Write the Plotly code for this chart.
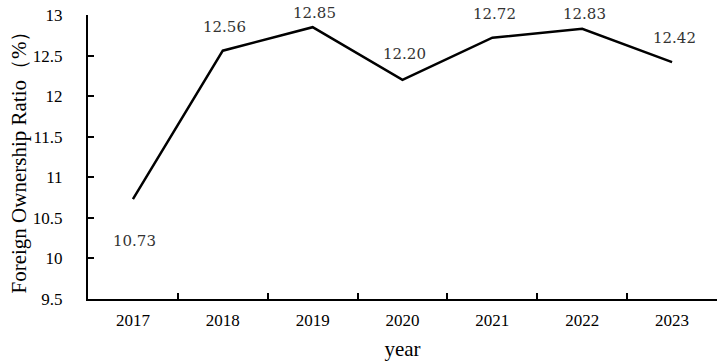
import plotly.graph_objects as go

years = ["2017", "2018", "2019", "2020", "2021", "2022", "2023"]
ratio = [10.73, 12.56, 12.85, 12.20, 12.72, 12.83, 12.42]
label_text = ["10.73", "12.56", "12.85", "12.20", "12.72", "12.83", "12.42"]

# vertical pixel offset of each value label from its point (style, not data)
label_dy = [-42, 24, 14, 26, 24, 15, 24]

serif = "Liberation Serif"

fig = go.Figure()
fig.add_trace(go.Scatter(
    x=years, y=ratio, mode="lines",
    line=dict(color="black", width=2.5),
    showlegend=False, hoverinfo="skip",
))

for i, (y, t, dy) in enumerate(zip(ratio, label_text, label_dy)):
    fig.add_annotation(
        x=i, y=y, xref="x", yref="y", text=t, showarrow=False,
        xshift=2, yshift=dy,
        font=dict(family="DejaVu Serif", size=15, color="#333333"),
    )

fig.update_layout(
    width=726, height=364,
    margin=dict(l=88, r=9, t=15, b=65),
    paper_bgcolor="white", plot_bgcolor="white",
    font=dict(family=serif, color="black"),
    xaxis=dict(
        type="category", range=[-0.5, 6.5], automargin=False,
        tickson="boundaries", ticks="inside", ticklen=6, tickwidth=2, tickcolor="black",
        showline=True, linecolor="black", linewidth=2,
        showgrid=False, zeroline=False,
        tickfont=dict(family=serif, size=17, color="black"),
        ticklabelstandoff=5,
        title=dict(text="year", font=dict(family=serif, size=21, color="black"), standoff=12),
    ),
    yaxis=dict(
        range=[9.5, 13], dtick=0.5, tick0=9.5, automargin=False,
        ticks="inside", ticklen=6, tickwidth=2, tickcolor="black",
        showline=True, linecolor="black", linewidth=2,
        showgrid=False, zeroline=False,
        tickfont=dict(family=serif, size=17, color="black"),
        ticklabelstandoff=20,
        title=dict(text="Foreign Ownership Ratio（%）", font=dict(family=serif, size=21, color="black"), standoff=0),
    ),
)

fig.write_html(
    "out.html",
    config={"displayModeBar": False},
    post_script="document.body.style.margin='0';document.body.style.overflow='hidden';",
)
